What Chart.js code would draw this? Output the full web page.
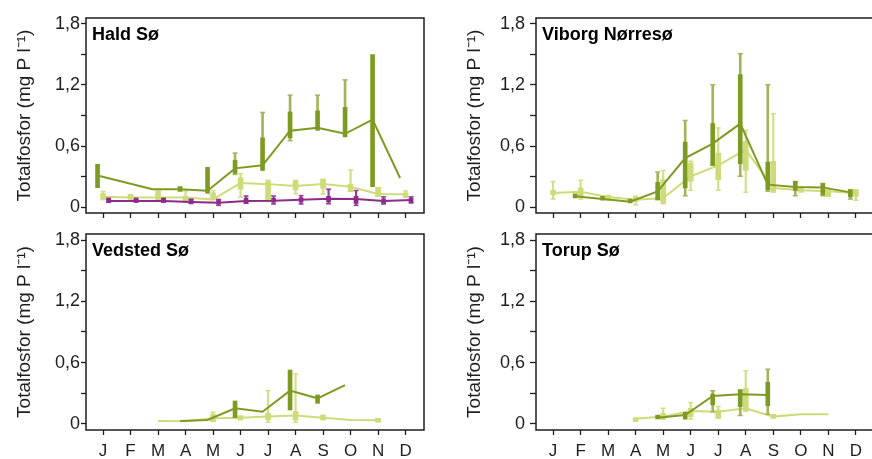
<!DOCTYPE html>
<html><head><meta charset="utf-8">
<script src="https://cdn.jsdelivr.net/npm/chart.js@4.4.1/dist/chart.umd.min.js"></script>
<style>
html,body{margin:0;padding:0;background:#fff;overflow:hidden;width:872px;height:459px;position:relative;}
canvas{position:absolute;}
</style></head><body>
<canvas id="c1" width="436" height="225" style="left:0;top:0"></canvas>
<canvas id="c2" width="443" height="225" style="left:436px;top:0"></canvas>
<canvas id="c3" width="436" height="234" style="left:0;top:225px"></canvas>
<canvas id="c4" width="443" height="234" style="left:436px;top:225px"></canvas>
<script>
// ---- categories / ticks ----
const months = ['J','F','M','A','M','J','J','A','S','O','N','D'];
const yTickValues = [0, 0.3, 0.6, 0.9, 1.2, 1.5, 1.8];
const yLabeledValues = [0, 0.6, 1.2, 1.8];
const yAxisTitle = 'Totalfosfor (mg P l\u207B\u00B9)';

// ---- Hald Sø ----
const haldDarkMed = [0.31, null, 0.175, 0.175, 0.16, 0.38, 0.41, 0.75, 0.78, 0.72, 0.86, 0.285];
const haldDarkQ1  = [0.19, null, null, 0.16, 0.135, 0.33, 0.36, 0.68, 0.755, 0.69, 0.20, null];
const haldDarkQ3  = [0.42, null, null, 0.19, 0.39, 0.46, 0.68, 0.935, 0.945, 0.98, 1.50, null];
const haldDarkLo  = [null, null, null, 0.155, null, 0.32, null, 0.652, null, null, null, null];
const haldDarkHi  = [null, null, null, 0.195, null, 0.53, 0.93, 1.10, 1.10, 1.25, null, null];

const haldLightMed = [0.10, 0.093, 0.093, 0.093, 0.075, 0.237, 0.225, 0.207, 0.226, 0.20, 0.128, 0.125];
const haldLightQ1  = [0.078, 0.085, 0.069, 0.042, 0.069, 0.174, 0.05, 0.167, 0.184, 0.15, 0.101, 0.101];
const haldLightQ3  = [0.132, 0.10, 0.16, 0.108, 0.14, 0.288, 0.25, 0.256, 0.272, 0.223, 0.194, 0.135];
const haldLightLo  = [0.072, 0.076, null, null, null, 0.095, null, 0.13, 0.128, null, null, 0.095];
const haldLightHi  = [0.152, 0.105, null, 0.16, 0.16, 0.328, 0.262, 0.262, 0.272, 0.364, null, 0.157];

const haldPurpleMed = [0.06, 0.06, 0.06, 0.05, 0.042, 0.058, 0.062, 0.072, 0.08, 0.078, 0.06, 0.068];
const haldPurpleQ1  = [0.05, 0.05, 0.05, 0.038, 0.028, 0.042, 0.047, 0.048, 0.05, 0.035, 0.038, 0.045];
const haldPurpleQ3  = [0.068, 0.068, 0.07, 0.062, 0.052, 0.088, 0.084, 0.092, 0.105, 0.105, 0.08, 0.088];
const haldPurpleLo  = [0.046, 0.048, 0.046, 0.034, 0.016, 0.036, 0.03, 0.03, 0.032, 0.016, 0.03, 0.04];
const haldPurpleHi  = [0.074, 0.072, 0.074, 0.075, 0.075, 0.108, 0.108, 0.112, 0.175, 0.162, 0.10, 0.10];

// ---- Viborg Nørresø ----
const viborgDarkMed = [null, 0.105, 0.079, 0.052, 0.154, 0.482, 0.623, 0.82, 0.22, 0.197, 0.193, 0.144];
const viborgDarkQ1  = [null, 0.089, 0.066, 0.039, 0.072, 0.187, 0.41, 0.426, 0.17, 0.164, 0.121, 0.098];
const viborgDarkQ3  = [null, 0.121, 0.085, 0.066, 0.243, 0.639, 0.82, 1.302, 0.443, 0.252, 0.23, 0.17];
const viborgDarkLo  = [null, null, null, null, 0.072, 0.111, 0.41, 0.302, 0.154, 0.111, 0.111, 0.079];
const viborgDarkHi  = [null, null, null, null, 0.344, 0.852, 1.203, 1.508, 1.203, 0.252, 0.23, 0.17];

const viborgLightMed = [0.138, 0.151, 0.098, 0.072, 0.089, 0.302, 0.41, 0.564, 0.187, 0.164, 0.154, 0.138];
const viborgLightQ1  = [0.121, 0.111, 0.079, 0.056, 0.039, 0.252, 0.269, 0.361, 0.154, 0.144, 0.105, 0.105];
const viborgLightQ3  = [0.164, 0.187, 0.111, 0.079, 0.269, 0.433, 0.531, 0.646, 0.449, 0.187, 0.17, 0.17];
const viborgLightLo  = [0.079, 0.079, 0.069, 0.023, 0.033, 0.164, 0.164, 0.144, 0.144, null, 0.105, 0.066];
const viborgLightHi  = [0.252, 0.262, 0.111, 0.105, 0.36, 0.449, 0.777, 0.754, 0.918, null, 0.17, 0.17];

// ---- Vedsted Sø ----
const vedstedDarkMed = [null, null, null, 0.03, 0.039, 0.153, 0.12, 0.326, 0.251, 0.381, null, null];
const vedstedDarkQ1  = [null, null, null, null, null, 0.062, null, 0.137, 0.202, null, null, null];
const vedstedDarkQ3  = [null, null, null, null, null, 0.225, null, 0.528, 0.284, null, null, null];
const vedstedDarkLo  = [null, null, null, null, null, null, null, null, null, null, null, null];
const vedstedDarkHi  = [null, null, null, null, null, null, null, null, null, null, null, null];

const vedstedLightMed = [null, null, 0.029, 0.026, 0.055, 0.062, 0.072, 0.082, 0.062, 0.039, 0.036, null];
const vedstedLightQ1  = [null, null, null, null, 0.023, 0.039, 0.039, 0.039, 0.039, null, 0.016, null];
const vedstedLightQ3  = [null, null, null, null, 0.095, 0.082, 0.104, 0.12, 0.088, null, 0.046, null];
const vedstedLightLo  = [null, null, null, null, null, null, 0.016, 0.016, null, null, null, null];
const vedstedLightHi  = [null, null, null, null, 0.114, null, 0.326, 0.489, null, null, null, null];

// ---- Torup Sø ----
const torupDarkMed = [null, null, null, null, 0.062, 0.088, 0.274, 0.29, 0.284, null, null, null];
const torupDarkQ1  = [null, null, null, null, 0.049, 0.046, 0.186, 0.17, 0.179, null, null, null];
const torupDarkQ3  = [null, null, null, null, 0.072, 0.114, 0.293, 0.333, 0.408, null, null, null];
const torupDarkLo  = [null, null, null, null, null, null, 0.12, 0.082, 0.095, null, null, null];
const torupDarkHi  = [null, null, null, null, null, null, 0.326, 0.333, 0.535, null, null, null];

const torupLightMed = [null, null, null, 0.05, 0.072, 0.127, 0.12, 0.153, 0.072, 0.095, 0.095, null];
const torupLightQ1  = [null, null, null, 0.023, 0.049, 0.072, 0.062, 0.127, 0.055, null, null, null];
const torupLightQ3  = [null, null, null, 0.055, 0.104, 0.153, 0.137, 0.349, 0.088, null, null, null];
const torupLightLo  = [null, null, null, null, 0.049, 0.049, 0.055, 0.127, null, null, null, null];
const torupLightHi  = [null, null, null, null, 0.153, 0.209, 0.17, 0.522, null, null, null, null];

// ---- styles ----
const FONT = '"Liberation Sans", Arial, Helvetica, sans-serif';
const INK = '#1e1e1e';
const STYLE_DARK   = {color:'#7d9b22', whisker:'#a6b35c', boxW:4, whiskerW:2, offset:-0.2};
const STYLE_LIGHT  = {color:'#cfdb78', whisker:'#d3de86', boxW:5, whiskerW:1.5, offset:0};
const STYLE_PURPLE = {color:'#8c2b8a', whisker:'#963f94', boxW:4, whiskerW:1.5, offset:0.2};

function series(style, med, q1, q3, lo, hi){ return Object.assign({med,q1,q3,lo,hi}, style); }

function buildDatasets(list){
  const ds = [];
  let order = 1000;
  list.forEach(s => {
    const wh = [], caps = [], box = [], line = [];
    s.med.forEach((m, i) => {
      const x = i + s.offset;
      if (m != null) line.push({x, y:m});
      if (s.q1[i] != null && s.q3[i] != null) box.push({x, y:[s.q1[i], s.q3[i]]});
      const lo = s.lo[i], hi = s.hi[i];
      if (lo != null || hi != null) {
        const a = lo != null ? lo : (s.q1[i] != null ? s.q1[i] : m);
        const b = hi != null ? hi : (s.q3[i] != null ? s.q3[i] : m);
        wh.push({x, y:[a, b]});
        if (lo != null) caps.push({x, y:lo});
        if (hi != null) caps.push({x, y:hi});
      }
    });
    ds.push({type:'bar', data:wh, backgroundColor:s.whisker, borderWidth:0,
             barThickness:s.whiskerW, maxBarThickness:s.whiskerW, grouped:false, order:order--});
    ds.push({type:'scatter', data:caps, pointStyle:'line', pointRadius:2.5,
             borderColor:s.whisker, pointBorderColor:s.whisker, pointBorderWidth:1.5, order:order--});
    ds.push({type:'line', data:line, borderColor:s.color, borderWidth:2, pointRadius:0,
             spanGaps:true, fill:false, order:order--});
    ds.push({type:'bar', data:box, backgroundColor:s.color, borderWidth:0,
             barThickness:s.boxW, maxBarThickness:s.boxW, minBarLength:4, grouped:false, order:order--});
  });
  return ds;
}

const framePlugin = {
  id:'frame',
  afterDraw(chart, args, o){
    const {ctx, chartArea:a} = chart;
    ctx.save();
    ctx.strokeStyle = INK; ctx.lineWidth = 1.5;
    ctx.beginPath();
    if (o.openRight) {
      ctx.moveTo(chart.width + 2, a.top);
      ctx.lineTo(a.left, a.top);
      ctx.lineTo(a.left, a.bottom);
      ctx.lineTo(chart.width + 2, a.bottom);
    } else {
      ctx.rect(a.left, a.top, a.right - a.left, a.bottom - a.top);
    }
    ctx.stroke();
    ctx.fillStyle = '#000';
    ctx.font = 'bold 18px ' + FONT;
    ctx.textBaseline = 'alphabetic'; ctx.textAlign = 'left';
    ctx.fillText(o.text, a.left + 6, a.top + 22);
    ctx.restore();
  }
};

function makeChart(id, name, list, p){
  new Chart(document.getElementById(id), {
    type:'bar',
    data:{datasets: buildDatasets(list)},
    options:{
      responsive:false, animation:false, devicePixelRatio:1,
      layout:{padding:{top:p.top, right:p.right, left:0, bottom:0}},
      plugins:{legend:{display:false}, tooltip:{enabled:false}, frame:{text:name, openRight:p.openRight}},
      scales:{
        x:{
          type:'linear', min:-0.62, max:p.xMax, offset:false,
          afterBuildTicks: sc => { sc.ticks = months.map((m, i) => ({value:i})); },
          afterFit: sc => { sc.height = p.xH; sc.paddingLeft = 0; sc.paddingRight = 0; },
          ticks:{ autoSkip:false, maxRotation:0, minRotation:0, padding:p.xPad, color:INK,
                  font:{family:FONT, size:17},
                  callback: v => p.labels ? months[v] : '' },
          grid:{ drawOnChartArea:false, drawTicks:true, tickLength:5, tickColor:INK, tickWidth:1.3, offset:false },
          border:{display:false}
        },
        y:{
          type:'linear', min:-0.059, max:1.859,
          afterBuildTicks: sc => { sc.ticks = yTickValues.map(v => ({value:v})); },
          afterFit: sc => { sc.width = p.yW; sc.paddingTop = 0; sc.paddingBottom = 0; },
          ticks:{ autoSkip:false, padding:p.yPad, color:INK, font:{family:FONT, size:18},
                  callback: v => yLabeledValues.includes(v) ? String(v).replace('.', ',') : '' },
          grid:{ drawOnChartArea:false, drawTicks:true, tickLength:p.yTick, tickColor:INK, tickWidth:1.3 },
          border:{display:false},
          title:{ display:true, text:yAxisTitle, color:INK, font:{family:FONT, size:19},
                  padding:{top:p.titlePad, bottom:0} }
        }
      }
    },
    plugins:[framePlugin]
  });
}

makeChart('c1', 'Hald Sø', [
  series(STYLE_LIGHT, haldLightMed, haldLightQ1, haldLightQ3, haldLightLo, haldLightHi),
  series(STYLE_DARK, haldDarkMed, haldDarkQ1, haldDarkQ3, haldDarkLo, haldDarkHi),
  series(STYLE_PURPLE, haldPurpleMed, haldPurpleQ1, haldPurpleQ3, haldPurpleLo, haldPurpleHi)
], {top:18, right:12, xH:12, xMax:11.67, yW:86, yTick:5, yPad:1, titlePad:13, xPad:6, labels:false, openRight:false});

makeChart('c2', 'Viborg Nørresø', [
  series(STYLE_LIGHT, viborgLightMed, viborgLightQ1, viborgLightQ3, viborgLightLo, viborgLightHi),
  series(STYLE_DARK, viborgDarkMed, viborgDarkQ1, viborgDarkQ3, viborgDarkLo, viborgDarkHi)
], {top:18, right:0, xH:12, xMax:11.64, yW:100, yTick:6, yPad:5, titlePad:27, xPad:6, labels:false, openRight:true});

makeChart('c3', 'Vedsted Sø', [
  series(STYLE_LIGHT, vedstedLightMed, vedstedLightQ1, vedstedLightQ3, vedstedLightLo, vedstedLightHi),
  series(STYLE_DARK, vedstedDarkMed, vedstedDarkQ1, vedstedDarkQ3, vedstedDarkLo, vedstedDarkHi)
], {top:9, right:12, xH:29, xMax:11.67, yW:86, yTick:5, yPad:1, titlePad:13, xPad:6, labels:true, openRight:false});

makeChart('c4', 'Torup Sø', [
  series(STYLE_LIGHT, torupLightMed, torupLightQ1, torupLightQ3, torupLightLo, torupLightHi),
  series(STYLE_DARK, torupDarkMed, torupDarkQ1, torupDarkQ3, torupDarkLo, torupDarkHi)
], {top:9, right:0, xH:29, xMax:11.64, yW:100, yTick:6, yPad:5, titlePad:27, xPad:6, labels:true, openRight:true});
</script>
</body></html>
